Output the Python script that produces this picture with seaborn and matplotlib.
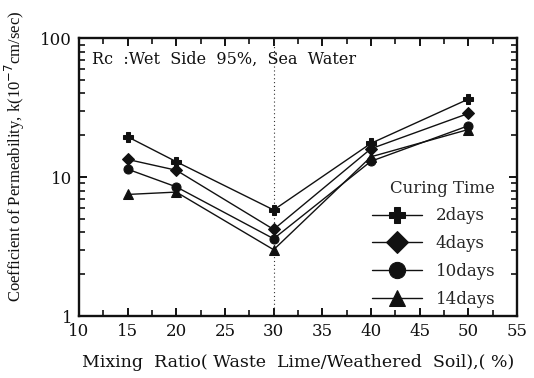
import numpy as np
import pandas as pd
import seaborn as sns
import matplotlib
matplotlib.use("Agg")
import matplotlib.pyplot as plt
from matplotlib.ticker import FixedLocator, NullFormatter, FixedFormatter

# Mixing ratio (%) and permeability k (x10^-7 cm/sec) for each curing time
mixing_ratio = [15, 20, 30, 40, 50]
k_2days = [19.5, 12.9, 5.8, 17.5, 36.4]
k_4days = [13.4, 11.2, 4.2, 16.0, 28.7]
k_10days = [11.4, 8.5, 3.6, 13.0, 23.4]
k_14days = [7.5, 7.8, 3.0, 14.0, 22.0]
curing_labels = ["2days", "4days", "10days", "14days"]

x_ticks = [10, 15, 20, 25, 30, 35, 40, 45, 50, 55]
y_ticks = [1, 10, 100]

rows = []
for lab, vals in zip(curing_labels, [k_2days, k_4days, k_10days, k_14days]):
    for x, v in zip(mixing_ratio, vals):
        rows.append({"ratio": x, "k": v, "Curing Time": lab})
df = pd.DataFrame(rows)

sns.set_theme(style="ticks")
plt.rcParams["font.family"] = ["DejaVu Serif"]

fig = plt.figure(figsize=(5.34, 3.78), dpi=100)
ax = fig.add_axes([0.148, 0.164, 0.820, 0.735])

markers = {"2days": "P", "4days": "D", "10days": "o", "14days": "^"}
palette = {lab: "#111111" for lab in curing_labels}

# reference line at 30 %
ax.axvline(30, color="#333333", lw=0.8, ls=(0, (1, 2.5)), zorder=1)

sns.lineplot(data=df, x="ratio", y="k", hue="Curing Time", style="Curing Time",
             markers=markers, dashes=False, palette=palette, linewidth=1.0,
             markersize=6.5, markeredgecolor="#111111", ax=ax, zorder=3)

ax.set_yscale("log")
ax.set_xlim(10, 55)
ax.set_ylim(1, 100)

ax.xaxis.set_major_locator(FixedLocator(x_ticks))
ax.xaxis.set_major_formatter(FixedFormatter([str(t) for t in x_ticks]))
ax.xaxis.set_minor_locator(FixedLocator(np.arange(12.5, 55, 5)))
ax.yaxis.set_major_locator(FixedLocator(y_ticks))
ax.yaxis.set_major_formatter(FixedFormatter([str(t) for t in y_ticks]))
minor_y = [m * d for d in (1, 10) for m in range(2, 10)]
ax.yaxis.set_minor_locator(FixedLocator(minor_y))
ax.yaxis.set_minor_formatter(NullFormatter())

ax.tick_params(which="both", direction="in", top=True, right=True,
               color="#111111", labelsize=12, labelcolor="#111111", pad=5)
ax.tick_params(which="major", length=6, width=1.4)
ax.tick_params(which="minor", length=4, width=1.2)

for s in ax.spines.values():
    s.set_linewidth(1.7)
    s.set_color("#111111")

ax.set_xlabel("Mixing  Ratio( Waste  Lime/Weathered  Soil),( %)", fontsize=12.5,
              color="#111111", labelpad=10)
ax.set_ylabel("Coefficient of Permeability, k(10$^{-7}$cm/sec)",
              fontsize=12, color="#111111", family="Liberation Serif")
ax.yaxis.set_label_coords(-0.118, 0.575)

ax.text(0.03, 0.925, "Rc  :Wet  Side  95%,  Sea  Water", transform=ax.transAxes,
        fontsize=11.5, color="#111111", va="center", ha="left")

sns.move_legend(ax, "lower right", bbox_to_anchor=(0.985, -0.025), title="Curing Time",
                frameon=False, markerscale=1.8, handlelength=3.0,
                labelspacing=0.65, fontsize=12, title_fontsize=12,
                markerfirst=True, alignment="right")

fig.savefig("out.png", dpi=100)
